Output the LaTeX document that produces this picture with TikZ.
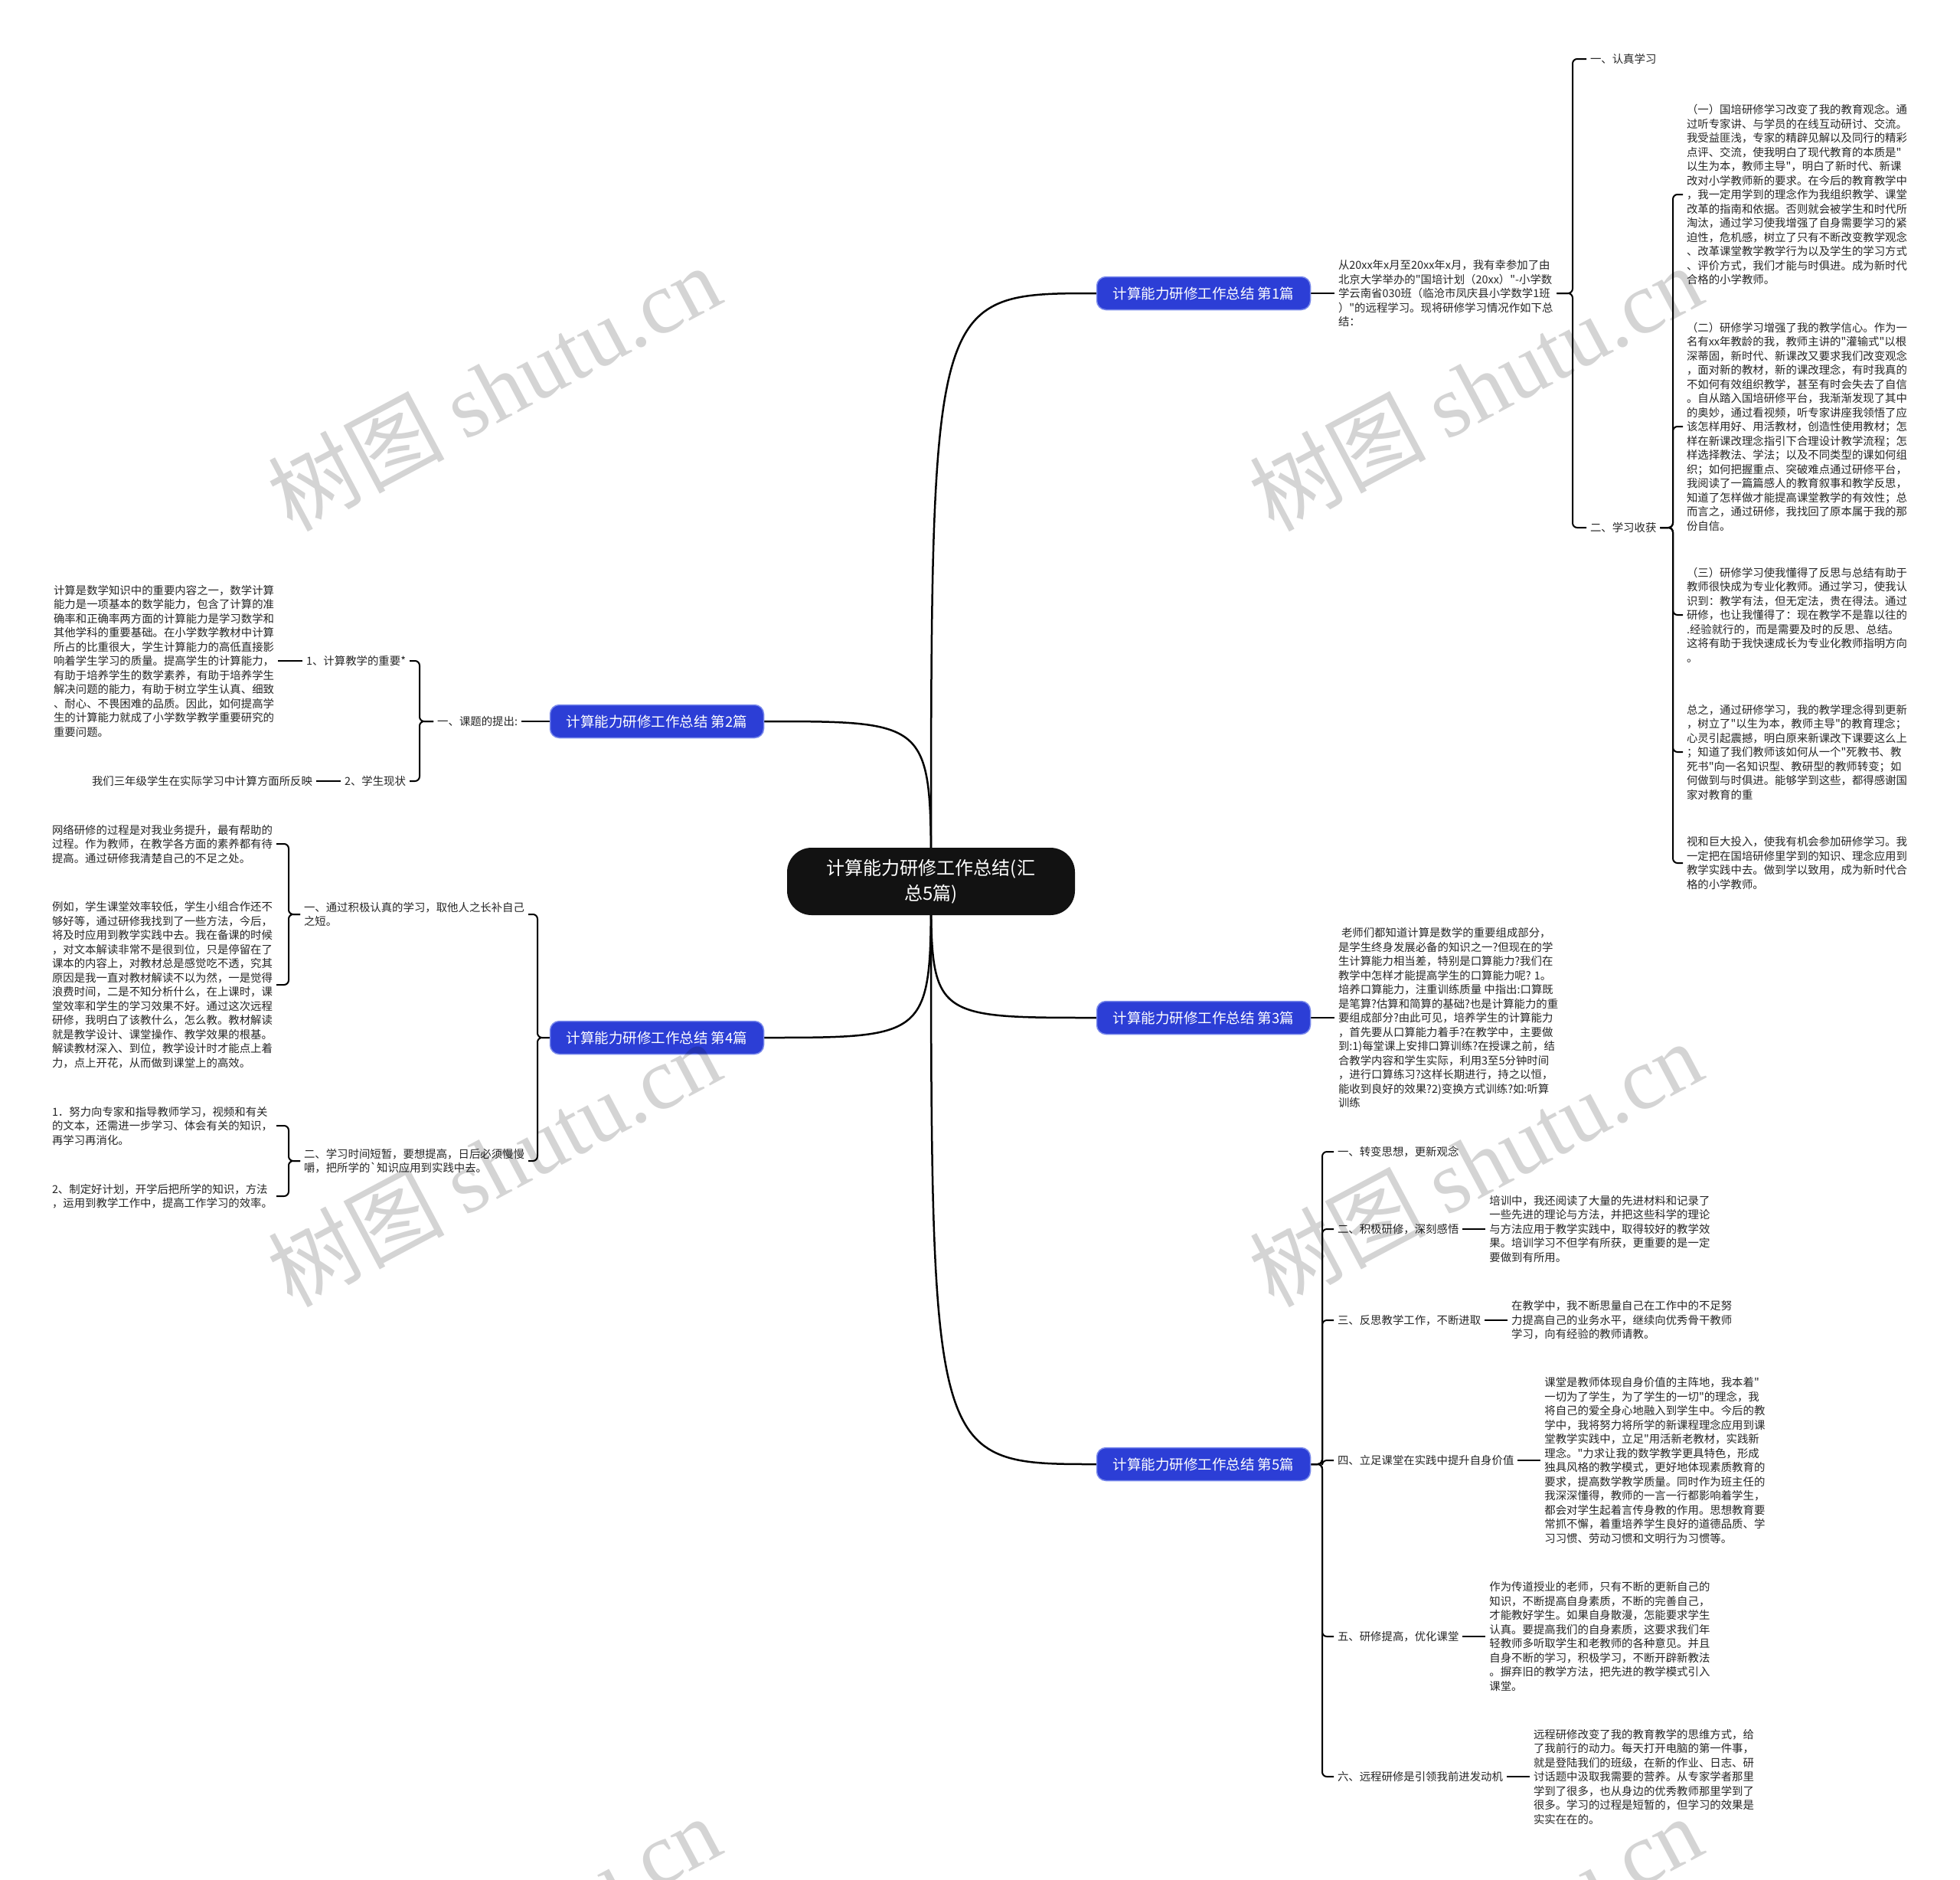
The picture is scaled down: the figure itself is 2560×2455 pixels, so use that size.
\documentclass[tikz,border=0pt]{standalone}
\usepackage{fontspec}
\setmainfont{Noto Sans CJK SC}[Ligatures=TeXOff]
\newfontfamily\wmlatin{Liberation Serif}
\usetikzlibrary{backgrounds}
\definecolor{bluenode}{RGB}{44,62,214}
\definecolor{bluerim}{RGB}{120,136,235}
\definecolor{rootfill}{RGB}{18,18,18}
\tikzset{
  every node/.style={inner sep=0pt, outer sep=0pt},
  txt/.style={font=\fontsize{14.4}{18.5}\selectfont, align=left, inner xsep=5pt, inner ysep=2pt, text=black!85},
  lvlone/.style={fill=bluenode, draw=bluerim, line width=1.5pt, rounded corners=12pt, text=white,
    font=\fontsize{18.5}{22}\selectfont, minimum width=279pt, minimum height=43pt},
  rootbox/.style={fill=rootfill, rounded corners=32pt, text=white, font=\fontsize{24}{33}\selectfont,
    align=center, minimum width=376pt, minimum height=88pt},
  mainlink/.style={line width=2.5pt, black},
  brlink/.style={line width=2pt, black, rounded corners=6pt},
  wmark/.style={text=black, opacity=0.17, font=\fontsize{115}{120}\selectfont, rotate=28}
}
\begin{document}
\begin{tikzpicture}[x=1pt,y=-1pt]
\useasboundingbox (0,0) rectangle (2560,2455);

% ---------- root and level one ----------
\node[rootbox] (root) at (1216,1151) {计算能力研修工作总结(汇\\总5篇)};
\node[lvlone] (n1) at (1572,383) {计算能力研修工作总结 第1篇};
\node[lvlone] (n2) at (858,942) {计算能力研修工作总结 第2篇};
\node[lvlone] (n3) at (1572,1329) {计算能力研修工作总结 第3篇};
\node[lvlone] (n4) at (858,1355) {计算能力研修工作总结 第4篇};
\node[lvlone] (n5) at (1572,1912) {计算能力研修工作总结 第5篇};

% bracket x positions
\coordinate (bxa) at (2054,0);
\coordinate (bxb) at (2185,0);
\coordinate (bxc) at (1727,0);
\coordinate (bxd) at (548,0);
\coordinate (bxe) at (702,0);
\coordinate (bxf) at (377,0);

% ---------- branch 1 ----------
\node[txt, anchor=west] (t1) at (1743,383) {从20xx年x月至20xx年x月，我有幸参加了由\\北京大学举办的"国培计划（20xx）"-小学数\\学云南省030班（临沧市凤庆县小学数学1班\\）"的远程学习。现将研修学习情况作如下总\\结：};
\node[txt, anchor=west] (k1) at (2072,77) {一、认真学习};
\node[txt, anchor=west] (k2) at (2072,689) {二、学习收获};
\node[txt, anchor=west] (p1a) at (2198,254) {（一）国培研修学习改变了我的教育观念。通\\过听专家讲、与学员的在线互动研讨、交流。\\我受益匪浅，专家的精辟见解以及同行的精彩\\点评、交流，使我明白了现代教育的本质是"\\以生为本，教师主导"，明白了新时代、新课\\改对小学教师新的要求。在今后的教育教学中\\，我一定用学到的理念作为我组织教学、课堂\\改革的指南和依据。否则就会被学生和时代所\\淘汰，通过学习使我增强了自身需要学习的紧\\迫性，危机感，树立了只有不断改变教学观念\\、改革课堂教学教学行为以及学生的学习方式\\、评价方式，我们才能与时俱进。成为新时代\\合格的小学教师。};
\node[txt, anchor=west] (p1b) at (2198,557) {（二）研修学习增强了我的教学信心。作为一\\名有xx年教龄的我，教师主讲的"灌输式"以根\\深蒂固，新时代、新课改又要求我们改变观念\\，面对新的教材，新的课改理念，有时我真的\\不如何有效组织教学，甚至有时会失去了自信\\。自从踏入国培研修平台，我渐渐发现了其中\\的奥妙，通过看视频，听专家讲座我领悟了应\\该怎样用好、用活教材，创造性使用教材；怎\\样在新课改理念指引下合理设计教学流程；怎\\样选择教法、学法；以及不同类型的课如何组\\织；如何把握重点、突破难点通过研修平台，\\我阅读了一篇篇感人的教育叙事和教学反思，\\知道了怎样做才能提高课堂教学的有效性；总\\而言之，通过研修，我找回了原本属于我的那\\份自信。};
\node[txt, anchor=west] (p1c) at (2198,803) {（三）研修学习使我懂得了反思与总结有助于\\教师很快成为专业化教师。通过学习，使我认\\识到：教学有法，但无定法，贵在得法。通过\\研修，也让我懂得了：现在教学不是靠以往的\\.经验就行的，而是需要及时的反思、总结。\\这将有助于我快速成长为专业化教师指明方向\\。};
\node[txt, anchor=west] (p1d) at (2198,982) {总之，通过研修学习，我的教学理念得到更新\\，树立了"以生为本，教师主导"的教育理念；\\心灵引起震撼，明白原来新课改下课要这么上\\；知道了我们教师该如何从一个"死教书、教\\死书"向一名知识型、教研型的教师转变；如\\何做到与时俱进。能够学到这些，都得感谢国\\家对教育的重};
\node[txt, anchor=west] (p1e) at (2198,1127) {视和巨大投入，使我有机会参加研修学习。我\\一定把在国培研修里学到的知识、理念应用到\\教学实践中去。做到学以致用，成为新时代合\\格的小学教师。};

% ---------- branch 3 ----------
\node[txt, anchor=west] (t3) at (1743,1329) {\hspace*{4pt}老师们都知道计算是数学的重要组成部分，\\是学生终身发展必备的知识之一?但现在的学\\生计算能力相当差，特别是口算能力?我们在\\教学中怎样才能提高学生的口算能力呢? 1。\\培养口算能力，注重训练质量 中指出:口算既\\是笔算?估算和简算的基础?也是计算能力的重\\要组成部分?由此可见，培养学生的计算能力\\，首先要从口算能力着手?在教学中，主要做\\到:1)每堂课上安排口算训练?在授课之前，结\\合教学内容和学生实际，利用3至5分钟时间\\，进行口算练习?这样长期进行，持之以恒，\\能收到良好的效果?2)变换方式训练?如:听算\\训练};

% ---------- branch 5 ----------
\node[txt, anchor=west] (c1) at (1742,1504) {一、转变思想，更新观念};
\node[txt, anchor=west] (c2) at (1742,1605) {二、积极研修，深刻感悟};
\node[txt, anchor=west] (c3) at (1742,1724) {三、反思教学工作，不断进取};
\node[txt, anchor=west] (c4) at (1742,1907) {四、立足课堂在实践中提升自身价值};
\node[txt, anchor=west] (c5) at (1742,2137) {五、研修提高，优化课堂};
\node[txt, anchor=west] (c6) at (1742,2320) {六、远程研修是引领我前进发动机};
\node[txt, anchor=west] (d2) at ([xshift=30pt]c2.east) {培训中，我还阅读了大量的先进材料和记录了\\一些先进的理论与方法，并把这些科学的理论\\与方法应用于教学实践中，取得较好的教学效\\果。培训学习不但学有所获，更重要的是一定\\要做到有所用。};
\node[txt, anchor=west] (d3) at ([xshift=30pt]c3.east) {在教学中，我不断思量自己在工作中的不足努\\力提高自己的业务水平，继续向优秀骨干教师\\学习，向有经验的教师请教。};
\node[txt, anchor=west] (d4) at ([xshift=30pt]c4.east) {课堂是教师体现自身价值的主阵地，我本着"\\一切为了学生，为了学生的一切"的理念，我\\将自己的爱全身心地融入到学生中。今后的教\\学中，我将努力将所学的新课程理念应用到课\\堂教学实践中，立足"用活新老教材，实践新\\理念。"力求让我的数学教学更具特色，形成\\独具风格的教学模式，更好地体现素质教育的\\要求，提高数学教学质量。同时作为班主任的\\我深深懂得，教师的一言一行都影响着学生，\\都会对学生起着言传身教的作用。思想教育要\\常抓不懈，着重培养学生良好的道德品质、学\\习习惯、劳动习惯和文明行为习惯等。};
\node[txt, anchor=west] (d5) at ([xshift=30pt]c5.east) {作为传道授业的老师，只有不断的更新自己的\\知识，不断提高自身素质，不断的完善自己，\\才能教好学生。如果自身散漫，怎能要求学生\\认真。要提高我们的自身素质，这要求我们年\\轻教师多听取学生和老教师的各种意见。并且\\自身不断的学习，积极学习，不断开辟新教法\\。摒弃旧的教学方法，把先进的教学模式引入\\课堂。};
\node[txt, anchor=west] (d6) at ([xshift=30pt]c6.east) {远程研修改变了我的教育教学的思维方式，给\\了我前行的动力。每天打开电脑的第一件事，\\就是登陆我们的班级，在新的作业、日志、研\\讨话题中汲取我需要的营养。从专家学者那里\\学到了很多，也从身边的优秀教师那里学到了\\很多。学习的过程是短暂的，但学习的效果是\\实实在在的。};

% ---------- branch 2 ----------
\node[txt, anchor=east] (l2) at (681,942) {一、课题的提出:};
\node[txt, anchor=east] (m1) at (535,863) {1、计算教学的重要*};
\node[txt, anchor=east] (m2) at (535,1020) {2、学生现状};
\node[txt, anchor=east] (q1) at ([xshift=-32pt]m1.west) {计算是数学知识中的重要内容之一，数学计算\\能力是一项基本的数学能力，包含了计算的准\\确率和正确率两方面的计算能力是学习数学和\\其他学科的重要基础。在小学数学教材中计算\\所占的比重很大，学生计算能力的高低直接影\\响着学生学习的质量。提高学生的计算能力，\\有助于培养学生的数学素养，有助于培养学生\\解决问题的能力，有助于树立学生认真、细致\\、耐心、不畏困难的品质。因此，如何提高学\\生的计算能力就成了小学数学教学重要研究的\\重要问题。};
\node[txt, anchor=east] (q2) at ([xshift=-32pt]m2.west) {我们三年级学生在实际学习中计算方面所反映};

% ---------- branch 4 ----------
\node[txt, anchor=east] (r1) at (690,1194) {一、通过积极认真的学习，取他人之长补自己\\之短。};
\node[txt, anchor=east] (r2) at (690,1516) {二、学习时间短暂，要想提高，日后必须慢慢\\嚼，把所学的`知识应用到实践中去。};
\node[txt, anchor=east] (s1) at (361,1102) {网络研修的过程是对我业务提升，最有帮助的\\过程。作为教师，在教学各方面的素养都有待\\提高。通过研修我清楚自己的不足之处。};
\node[txt, anchor=east] (s2) at (361,1286) {例如，学生课堂效率较低，学生小组合作还不\\够好等，通过研修我找到了一些方法，今后，\\将及时应用到教学实践中去。我在备课的时候\\，对文本解读非常不是很到位，只是停留在了\\课本的内容上，对教材总是感觉吃不透，究其\\原因是我一直对教材解读不以为然，一是觉得\\浪费时间，二是不知分析什么，在上课时，课\\堂效率和学生的学习效果不好。通过这次远程\\研修，我明白了该教什么，怎么教。教材解读\\就是教学设计、课堂操作、教学效果的根基。\\解读教材深入、到位，教学设计时才能点上着\\力，点上开花，从而做到课堂上的高效。};
\node[txt, anchor=east] (u1) at (361,1470) {1．努力向专家和指导教师学习，视频和有关\\的文本，还需进一步学习、体会有关的知识，\\再学习再消化。};
\node[txt, anchor=east] (u2) at (361,1562) {2、制定好计划，开学后把所学的知识，方法\\，运用到教学工作中，提高工作学习的效率。};

% ---------- connectors ----------
\begin{scope}[on background layer]
\fill[white] (0,0) rectangle (2560,2455);
\draw[mainlink] (root.center) .. controls (root.center |- n1.west) and (root.center |- n1.west) .. (n1.west);
\draw[mainlink] (root.center) .. controls (root.center |- n2.east) and (root.center |- n2.east) .. (n2.east);
\draw[mainlink] (root.center) .. controls (root.center |- n3.west) and (root.center |- n3.west) .. (n3.west);
\draw[mainlink] (root.center) .. controls (root.center |- n4.east) and (root.center |- n4.east) .. (n4.east);
\draw[mainlink] (root.center) .. controls (root.center |- n5.west) and (root.center |- n5.west) .. (n5.west);

\draw[brlink] (n1.east) -- (t1.west);
\draw[brlink] (t1.east) -- (t1.east -| bxa) |- (k1.west);
\draw[brlink] (t1.east) -- (t1.east -| bxa) |- (k2.west);
\foreach \c in {p1a,p1b,p1c,p1d,p1e}
  \draw[brlink] (k2.east) -- (k2.east -| bxb) |- (\c.west);

\draw[brlink] (n3.east) -- (t3.west);

\foreach \c in {c1,c2,c3,c4,c5,c6}
  \draw[brlink] (n5.east) -- (n5.east -| bxc) |- (\c.west);
\foreach \a/\b in {c2/d2,c3/d3,c4/d4,c5/d5,c6/d6}
  \draw[brlink] (\a.east) -- (\b.west);

\draw[brlink] (n2.west) -- (l2.east);
\draw[brlink] (l2.west) -- (l2.west -| bxd) |- (m1.east);
\draw[brlink] (l2.west) -- (l2.west -| bxd) |- (m2.east);
\draw[brlink] (m1.west) -- (q1.east);
\draw[brlink] (m2.west) -- (q2.east);

\draw[brlink] (n4.west) -- (n4.west -| bxe) |- (r1.east);
\draw[brlink] (n4.west) -- (n4.west -| bxe) |- (r2.east);
\draw[brlink] (r1.west) -- (r1.west -| bxf) |- (s1.east);
\draw[brlink] (r1.west) -- (r1.west -| bxf) |- (s2.east);
\draw[brlink] (r2.west) -- (r2.west -| bxf) |- (u1.east);
\draw[brlink] (r2.west) -- (r2.west -| bxf) |- (u2.east);
\end{scope}

% ---------- watermark ----------
\foreach \wx/\wy [count=\i] in {645/506,1927/506,645/1519,1927/1519,645/2531,1927/2531}
  \node[wmark] (wm\i) at (\wx,\wy) {树图 {\wmlatin shutu.cn}};
\end{tikzpicture}
\end{document}
